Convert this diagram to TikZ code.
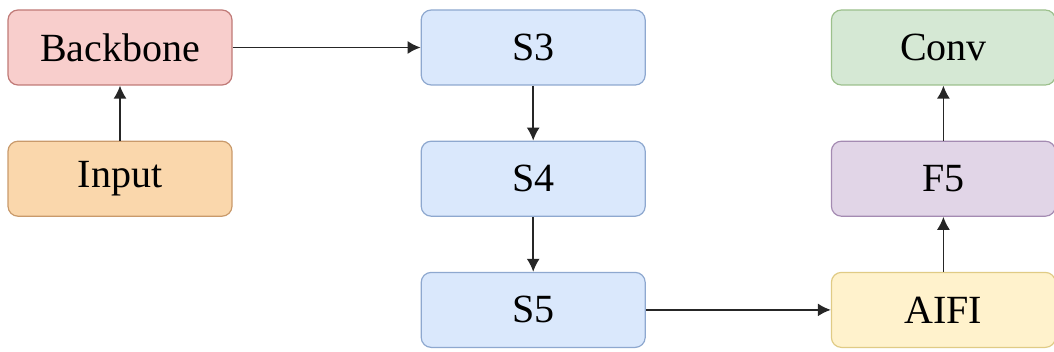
\documentclass[tikz,border=0pt]{standalone}
\usepackage{fontspec}
\setmainfont{Liberation Serif}
\usepackage{tikz}
\usetikzlibrary{arrows.meta, positioning}
\definecolor{redfill}{HTML}{F8CECC}
\definecolor{redline}{HTML}{C07A77}
\definecolor{orangefill}{HTML}{FAD7AC}
\definecolor{orangeline}{HTML}{C99A6B}
\definecolor{bluefill}{HTML}{DAE8FC}
\definecolor{blueline}{HTML}{8EA8CF}
\definecolor{greenfill}{HTML}{D5E8D4}
\definecolor{greenline}{HTML}{9CC08C}
\definecolor{purplefill}{HTML}{E1D5E7}
\definecolor{purpleline}{HTML}{A48BB2}
\definecolor{yellowfill}{HTML}{FFF2CC}
\definecolor{yellowline}{HTML}{E0CB85}
\definecolor{arrowcolor}{HTML}{262626}
\begin{document}
\begin{tikzpicture}[
            >={Latex[width=6.5pt,length=6.5pt]},
                base/.style = {rectangle, rounded corners=5pt, line width=0.6pt,
                            minimum width=112pt, minimum height=37.5pt, text
                            centered, font=\fontsize{20}{24}\selectfont},
                backbonebox/.style = {base, fill=redfill, draw=redline},
                inputbox/.style = {base, fill=orangefill, draw=orangeline},
                stagebox/.style = {base, fill=bluefill, draw=blueline},
                aifibox/.style = {base, fill=yellowfill, draw=yellowline},
                fusebox/.style = {base, fill=purplefill, draw=purpleline},
                convbox/.style = {base, fill=greenfill, draw=greenline},
                link/.style = {->, draw=arrowcolor, line width=0.8pt},
            node distance=27.5pt and 94pt]
            \useasboundingbox (0,0) rectangle (527pt,-176pt);
            \node (Backbone) [backbonebox] at (60pt,-23.75pt) {Backbone};
            \node (Input) [inputbox, below=of Backbone] {Input};
            \node (S3) [stagebox, right=of Backbone] {S3};
            \node (S4) [stagebox, below=of S3] {S4};
            \node (S5) [stagebox, below=of S4] {S5};
            \node (Conv) [convbox, right=92.5pt of S3] {Conv};
            \node (F5) [fusebox, below=of Conv] {F5};
            \node (AIFI) [aifibox, below=of F5] {AIFI};
            \draw[link] (Input) -- (Backbone);
            \draw[link] (Backbone) -- (S3);
            \draw[link] (S3) -- (S4);
            \draw[link] (S4) -- (S5);
            \draw[link] (S5) -- (AIFI);
            \draw[link] (AIFI) -- (F5);
            \draw[link] (F5) -- (Conv);
        \end{tikzpicture}
\end{document}
